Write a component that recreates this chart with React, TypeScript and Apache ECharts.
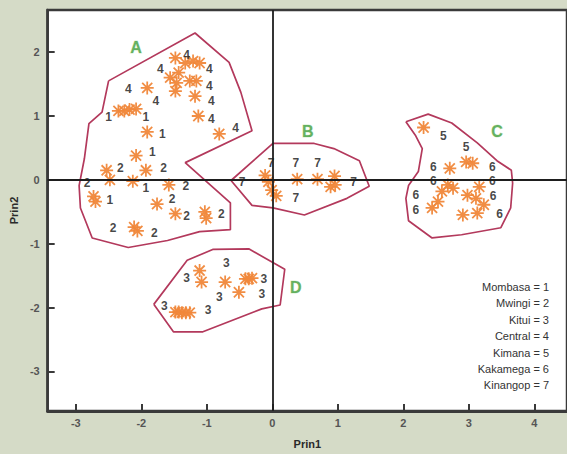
import React, { useEffect, useRef } from "react";
import * as echarts from "echarts";

// Orange asterisk observations [Prin1, Prin2]
const stars: number[][] = [
  // Central (4)
  [-1.48, 1.91], [-1.33, 1.83], [-1.21, 1.86], [-1.11, 1.83], [-1.43, 1.68], [-1.56, 1.6],
  [-1.46, 1.52], [-1.26, 1.55], [-1.16, 1.55], [-1.48, 1.39], [-1.18, 1.31], [-1.91, 1.44],
  [-1.13, 1.0], [-0.81, 0.72],
  // Mombasa (1)
  [-2.35, 1.08], [-2.26, 1.08], [-2.18, 1.1], [-2.08, 1.11], [-1.91, 0.75], [-2.08, 0.38],
  // Mwingi (2) / Mombasa
  [-2.53, 0.15], [-2.48, 0.0], [-1.93, 0.15], [-2.13, -0.02], [-1.58, -0.08], [-2.73, -0.26],
  [-2.7, -0.34], [-1.76, -0.38], [-1.48, -0.53], [-1.03, -0.5], [-1.01, -0.6], [-2.11, -0.74],
  [-2.06, -0.8],
  // Kinangop (7)
  [-0.11, 0.07], [-0.06, -0.03], [-0.01, -0.16], [0.06, -0.25], [0.38, 0.01], [0.69, 0.01],
  [0.95, 0.06], [0.89, -0.11], [0.96, -0.08],
  // Kimana (5) / Kakamega (6)
  [2.31, 0.82], [2.96, 0.28], [3.06, 0.26], [2.71, 0.18], [2.68, -0.08], [2.76, -0.13],
  [2.59, -0.18], [2.53, -0.34], [2.44, -0.44], [3.16, -0.11], [2.98, -0.24], [3.11, -0.29],
  [3.23, -0.39], [2.91, -0.55], [3.13, -0.52],
  // Kitui (3)
  [-1.11, -1.42], [-1.08, -1.6], [-0.72, -1.6], [-0.41, -1.55], [-0.31, -1.54], [-0.36, -1.55],
  [-0.51, -1.76], [-1.48, -2.07], [-1.43, -2.07], [-1.38, -2.08], [-1.32, -2.08], [-1.26, -2.08],
];

// Site code labels [Prin1, Prin2, code]
const siteLabels: (number | string)[][] = [
  [-1.31, 1.96, "4"], [-1.71, 1.74, "4"], [-0.96, 1.74, "4"], [-2.2, 1.43, "4"], [-0.96, 1.47, "4"],
  [-1.78, 1.24, "4"], [-0.93, 1.24, "4"], [-0.93, 0.96, "4"], [-0.56, 0.81, "4"],
  [-2.5, 0.98, "1"], [-1.93, 0.98, "1"], [-1.68, 0.72, "1"], [-1.83, 0.44, "1"], [-1.93, -0.12, "1"],
  [-2.48, -0.31, "1"],
  [-2.32, 0.19, "2"], [-1.66, 0.19, "2"], [-2.83, -0.05, "2"], [-1.32, -0.09, "2"], [-1.53, -0.3, "2"],
  [-1.31, -0.56, "2"], [-0.78, -0.53, "2"], [-2.43, -0.76, "2"], [-1.8, -0.84, "2"],
  [-0.02, 0.27, "7"], [0.36, 0.26, "7"], [0.69, 0.26, "7"], [-0.46, -0.04, "7"], [1.24, -0.03, "7"],
  [0.36, -0.28, "7"],
  [2.61, 0.69, "5"], [2.96, 0.51, "5"],
  [2.46, 0.2, "6"], [2.46, -0.02, "6"], [3.36, 0.2, "6"], [3.36, -0.02, "6"], [2.19, -0.24, "6"],
  [2.19, -0.47, "6"], [3.37, -0.26, "6"], [3.47, -0.53, "6"],
  [-0.7, -1.31, "3"], [-1.31, -1.53, "3"], [-0.13, -1.55, "3"], [-0.81, -1.84, "3"], [-0.16, -1.79, "3"],
  [-1.65, -1.97, "3"], [-0.98, -2.04, "3"],
];

// Cluster outlines
const polyA: number[][] = [
  [-2.5, 1.55], [-1.18, 2.3], [-0.66, 1.84], [-0.48, 1.37], [-0.31, 0.77], [-1.33, 0.27],
  [-0.64, -0.36], [-0.64, -0.78], [-1.11, -0.81], [-1.6, -0.95], [-2.2, -1.06], [-2.75, -0.91],
  [-2.93, -0.44], [-2.95, -0.09], [-2.87, 0.33], [-2.8, 0.88], [-2.6, 1.06], [-2.5, 1.55],
];
const polyB: number[][] = [
  [-0.63, -0.01], [0.01, 0.57], [0.64, 0.57], [0.94, 0.49], [1.33, 0.3], [1.48, -0.1],
  [1.14, -0.29], [0.49, -0.55], [0.01, -0.44], [-0.31, -0.4], [-0.63, -0.01],
];
const polyC: number[][] = [
  [2.04, 0.91], [2.38, 1.03], [2.74, 0.89], [3.13, 0.58], [3.43, 0.3], [3.65, 0.15], [3.67, -0.05],
  [3.64, -0.44], [3.49, -0.75], [2.89, -0.86], [2.44, -0.91], [2.08, -0.64], [2.04, -0.29],
  [2.08, -0.09], [2.23, 0.13], [2.29, 0.49], [2.19, 0.69], [2.04, 0.91],
];
const polyD: number[][] = [
  [-1.81, -1.95], [-1.3, -1.26], [-0.91, -1.09], [-0.36, -1.08], [0.19, -1.4], [0.12, -1.96],
  [-0.16, -2.02], [-1.06, -2.38], [-1.51, -2.38], [-1.81, -1.95],
];

const clusterNames = ["A", "B", "C", "D"];
const clusterPos: number[][] = [[-2.08, 2.08], [0.54, 0.75], [3.43, 0.75], [0.36, -1.68]];

const legendLines = [
  "Mombasa = 1", "Mwingi = 2", "Kitui = 3", "Central = 4", "Kimana = 5", "Kakamega = 6", "Kinangop = 7",
];

const xTicks = [-3, -2, -1, 0, 1, 2, 3, 4];
const yTicks = [-3, -2, -1, 0, 1, 2];

const STAR =
  "path://M1 10.5L23 10.5L23 13.5L1 13.5Z M10.5 1L13.5 1L13.5 23L10.5 23Z M4.56 2.44L21.56 19.44L19.44 21.56L2.44 4.56Z M21.56 4.56L4.56 21.56L2.44 19.44L19.44 2.44Z";

const FONT = "Liberation Sans, Arial, sans-serif";

export default function App() {
  const ref = useRef<HTMLDivElement>(null);
  useEffect(() => {
    document.body.style.margin = "0";
    const chart = echarts.init(ref.current!, null, { renderer: "svg" });
    const polyStyle = { color: "#b3395c", width: 1.7 };
    const polySeries = [polyA, polyB, polyC, polyD].map((p) => ({
      type: "line",
      data: p,
      showSymbol: false,
      symbol: "none",
      lineStyle: polyStyle,
      z: 2,
      silent: true,
    }));
    chart.setOption({
      animation: false,
      backgroundColor: "#d5dbc7",
      textStyle: { fontFamily: FONT },
      grid: {
        left: 45,
        top: 10,
        width: 529.7,
        height: 405,
        show: true,
        backgroundColor: "#ffffff",
        borderColor: "#3a3a3a",
        borderWidth: 2.5,
      },
      xAxis: {
        type: "value",
        min: -3.43,
        max: 4.5,
        splitLine: { show: false },
        axisLine: { show: true, onZero: false, lineStyle: { color: "#3a3a3a", width: 3 } },
        axisTick: { show: true, inside: true, length: 7, customValues: xTicks, lineStyle: { color: "#3a3a3a", width: 2 } },
        axisLabel: { customValues: xTicks, color: "#555", fontSize: 11, fontWeight: "bold", margin: 6, fontFamily: FONT },
        name: "Prin1",
        nameLocation: "middle",
        nameGap: 27,
        nameTextStyle: { color: "#2a2a2a", fontSize: 11, fontWeight: "bold", fontFamily: FONT },
      },
      yAxis: {
        type: "value",
        min: -3.62,
        max: 2.66,
        splitLine: { show: false },
        axisLine: { show: true, onZero: false, lineStyle: { color: "#3a3a3a", width: 2.5 } },
        axisTick: { show: true, inside: true, length: 7, customValues: yTicks, lineStyle: { color: "#3a3a3a", width: 2 } },
        axisLabel: { customValues: yTicks, color: "#555", fontSize: 11, fontWeight: "bold", margin: 8, fontFamily: FONT },
        name: "Prin2",
        nameLocation: "middle",
        nameGap: 24,
        nameTextStyle: { color: "#2a2a2a", fontSize: 11, fontWeight: "bold", fontFamily: FONT },
      },
      series: [
        ...polySeries,
        {
          type: "scatter",
          data: stars,
          symbol: STAR,
          symbolSize: 13,
          itemStyle: { color: "#f0873a", opacity: 0.95 },
          z: 3,
          silent: true,
        },
        {
          type: "scatter",
          data: siteLabels,
          symbolSize: 1,
          itemStyle: { color: "rgba(0,0,0,0)" },
          label: {
            show: true,
            position: "inside",
            formatter: (p: any) => p.value[2],
            color: "#151515",
            fontSize: 12,
            fontWeight: "bold",
            fontFamily: FONT,
          },
          z: 4,
          silent: true,
          markLine: {
            silent: true,
            symbol: "none",
            label: { show: false },
            lineStyle: { color: "#1e1e1e", width: 1.8, type: "solid" },
            data: [{ xAxis: 0 }, { yAxis: 0 }],
          },
        },
        {
          type: "scatter",
          data: clusterPos.map((p, i) => [p[0], p[1], clusterNames[i]]),
          symbolSize: 1,
          itemStyle: { color: "rgba(0,0,0,0)" },
          label: {
            show: true,
            position: "inside",
            formatter: (p: any) => p.value[2],
            color: "#3f9e3a",
            fontSize: 16,
            fontWeight: "bold",
            fontFamily: FONT,
            textBorderColor: "#cfeac4",
            textBorderWidth: 1,
          },
          z: 5,
          silent: true,
        },
      ],
      graphic: legendLines.map((t, i) => ({
        type: "text",
        x: 549,
        y: 287 + i * 16.4,
        silent: true,
        style: {
          text: t,
          fill: "#333",
          font: `11px ${FONT}`,
          align: "right",
          textAlign: "right",
          verticalAlign: "middle",
          textVerticalAlign: "middle",
        },
      })),
    });
    return () => chart.dispose();
  }, []);
  return <div ref={ref} style={{ width: 567, height: 454 }} />;
}
